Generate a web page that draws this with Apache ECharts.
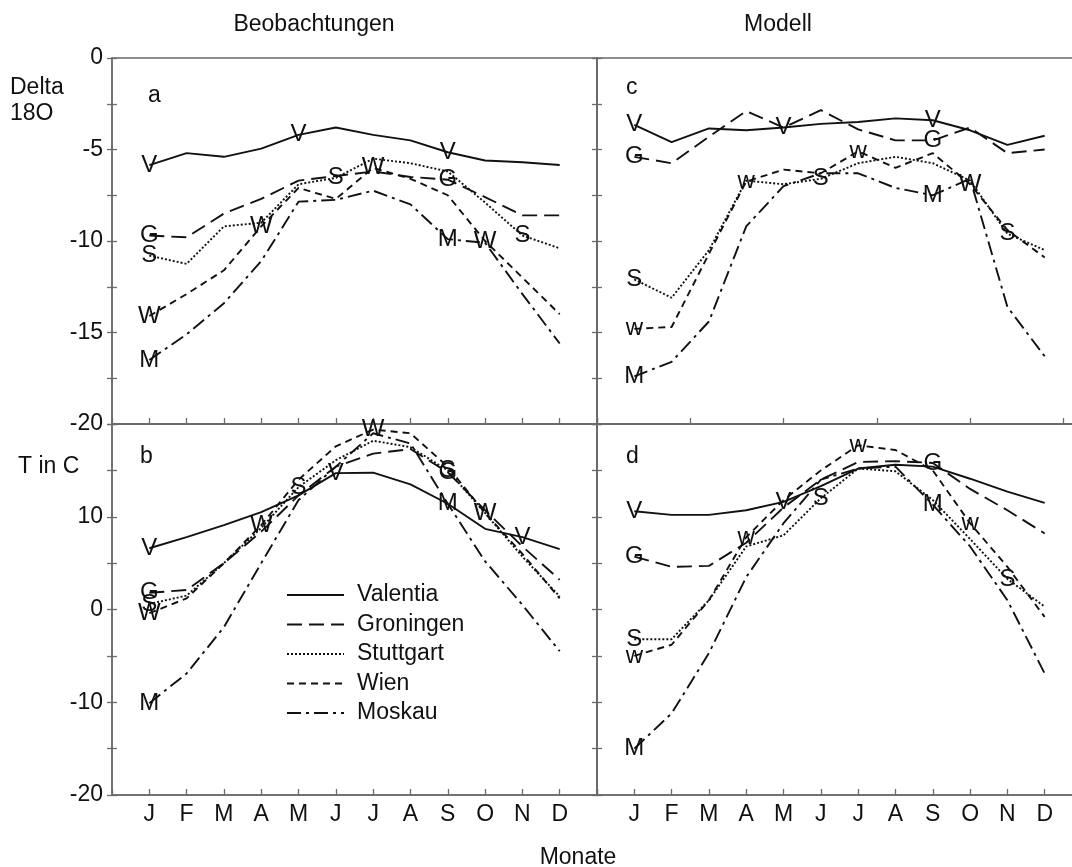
<!DOCTYPE html>
<html>
<head>
<meta charset="utf-8">
<script src="https://cdn.jsdelivr.net/npm/echarts@6/dist/echarts.min.js"></script>
<style>
  html, body { margin: 0; padding: 0; background: #ffffff; }
  #chart { width: 1072px; height: 867px; }
</style>
</head>
<body>
<div id="chart"></div>
<script>
// Month axis letters (January .. December)
const monthLetters = ['J', 'F', 'M', 'A', 'M', 'J', 'J', 'A', 'S', 'O', 'N', 'D'];
const stations = ['Valentia', 'Groningen', 'Stuttgart', 'Wien', 'Moskau'];

// a) Beobachtungen, Delta 18O
const valentiaObsD18O  = [-5.85, -5.2, -5.4, -4.95, -4.2, -3.8, -4.2, -4.5, -5.15, -5.6, -5.7, -5.85];
const groningenObsD18O = [-9.7, -9.8, -8.5, -7.7, -6.7, -6.45, -6.2, -6.5, -6.65, -7.6, -8.6, -8.6];
const stuttgartObsD18O = [-10.8, -11.25, -9.2, -9.0, -6.9, -6.55, -5.5, -5.75, -6.2, -7.9, -9.7, -10.4];
const wienObsD18O      = [-14.1, -12.9, -11.6, -9.2, -7.1, -7.7, -6.0, -6.6, -7.5, -10.0, -12.0, -14.0];
const moskauObsD18O    = [-16.5, -15.1, -13.4, -11.1, -7.85, -7.75, -7.25, -8.0, -9.9, -10.1, -12.9, -15.6];

// b) Beobachtungen, T in C
const valentiaObsT  = [6.6, 7.8, 9.1, 10.5, 12.3, 14.7, 14.75, 13.5, 11.4, 8.7, 7.8, 6.5];
const groningenObsT = [1.8, 2.1, 5.0, 8.4, 12.3, 15.4, 16.8, 17.3, 14.8, 10.7, 6.8, 3.2];
const stuttgartObsT = [0.6, 1.5, 5.0, 8.8, 13.2, 16.1, 18.2, 17.5, 15.0, 10.4, 5.7, 1.4];
const wienObsT      = [-0.4, 1.2, 5.0, 9.1, 14.0, 17.6, 19.4, 19.0, 15.4, 10.4, 6.0, 1.2];
const moskauObsT    = [-10.1, -6.9, -1.9, 5.0, 11.8, 15.4, 19.0, 17.9, 11.4, 5.2, 0.5, -4.5];

// c) Modell, Delta 18O
const valentiaModD18O  = [-3.65, -4.6, -3.85, -3.95, -3.8, -3.6, -3.5, -3.3, -3.4, -3.95, -4.75, -4.25];
const groningenModD18O = [-5.4, -5.75, -4.3, -2.9, -3.8, -2.85, -3.9, -4.5, -4.5, -3.8, -5.2, -5.0];
const stuttgartModD18O = [-12.1, -13.1, -10.5, -6.7, -6.9, -6.6, -5.75, -5.4, -5.75, -6.7, -9.6, -10.5];
const wienModD18O      = [-14.8, -14.7, -10.7, -6.75, -6.1, -6.3, -5.1, -6.0, -5.2, -6.9, -9.4, -10.9];
const moskauModD18O    = [-17.4, -16.6, -14.4, -9.2, -7.0, -6.3, -6.3, -7.1, -7.5, -6.6, -13.6, -16.3];

// d) Modell, T in C
const valentiaModT  = [10.6, 10.2, 10.2, 10.7, 11.6, 13.3, 15.2, 15.6, 15.4, 14.1, 12.7, 11.5];
const groningenModT = [5.7, 4.6, 4.7, 7.2, 11.0, 14.0, 15.9, 16.0, 15.8, 13.0, 10.7, 8.2];
const stuttgartModT = [-3.2, -3.2, 1.0, 6.8, 8.0, 12.0, 15.2, 14.9, 11.8, 7.6, 3.3, 0.3];
const wienModT      = [-5.0, -3.8, 1.0, 7.8, 11.8, 15.0, 17.7, 17.2, 15.0, 9.3, 4.6, -0.8];
const moskauModT    = [-15.0, -11.2, -4.7, 3.5, 9.3, 14.0, 15.2, 15.4, 11.3, 6.8, 1.0, -6.9];

// Station letters written on the curves: [station index, month, letter]
const markersObsD18O = [[0,1,'V'],[0,5,'V'],[0,9,'V'],[1,1,'G'],[1,9,'G'],[2,1,'S'],[2,6,'S'],[2,11,'S'],
                        [3,1,'W'],[3,4,'W'],[3,7,'W'],[3,10,'W'],[4,1,'M'],[4,9,'M']];
const markersObsT    = [[0,1,'V'],[0,6,'V'],[0,11,'V'],[1,1,'G'],[1,9,'G'],[2,1,'S'],[2,5,'S'],[2,9,'S'],
                        [3,1,'W'],[3,4,'W'],[3,7,'W'],[3,10,'W'],[4,1,'M'],[4,9,'M']];
const markersModD18O = [[0,1,'V'],[0,5,'V'],[0,9,'V'],[1,1,'G'],[1,9,'G'],[2,1,'S'],[2,6,'S'],[2,11,'S'],
                        [3,1,'w'],[3,4,'w'],[3,7,'w'],[3,10,'W'],[4,1,'M'],[4,9,'M']];
const markersModT    = [[0,1,'V'],[0,5,'V'],[1,1,'G'],[1,9,'G'],[2,1,'S'],[2,6,'S'],[2,11,'S'],
                        [3,1,'w'],[3,4,'w'],[3,7,'w'],[3,10,'w'],[4,1,'M'],[4,9,'M']];

const panels = [
  { values: [valentiaObsD18O, groningenObsD18O, stuttgartObsD18O, wienObsD18O, moskauObsD18O], markers: markersObsD18O },
  { values: [valentiaObsT, groningenObsT, stuttgartObsT, wienObsT, moskauObsT], markers: markersObsT },
  { values: [valentiaModD18O, groningenModD18O, stuttgartModD18O, wienModD18O, moskauModD18O], markers: markersModD18O },
  { values: [valentiaModT, groningenModT, stuttgartModT, wienModT, moskauModT], markers: markersModT }
];

const FONT = '"Liberation Sans", Arial, Helvetica, sans-serif';
const FS = 23;
const INK = '#111111';
const FRAME = '#6a6a6a';
const dashes = [null, [15, 7], [2, 2], [7, 5], [14, 5, 3, 5]];

// Layout of the four panels: a (top left), b (bottom left), c (top right), d (bottom right)
const gridBoxes = [
  { left: 112, top: 58, width: 485, height: 366 },
  { left: 112, top: 424, width: 485, height: 371 },
  { left: 597, top: 58, width: 485, height: 366 },
  { left: 597, top: 424, width: 485, height: 371 }
];
const isTemp = [false, true, false, true];

const grid = gridBoxes.map(g => Object.assign({
  show: true, borderColor: FRAME, borderWidth: 1.5, backgroundColor: 'transparent',
  containLabel: false, outerBoundsMode: 'none'
}, g));

const xAxis = gridBoxes.map((g, i) => ({
  type: 'value', gridIndex: i, position: 'bottom', min: 0, max: 13, interval: i === 2 ? 2.5 : 1,
  axisLine: { show: true, onZero: false, lineStyle: { color: FRAME, width: 1.5 } },
  axisTick: { show: true, inside: true, length: 6, lineStyle: { color: FRAME, width: 1.3 } },
  splitLine: { show: false },
  axisLabel: {
    show: isTemp[i], margin: 8, color: INK, fontSize: FS, fontFamily: FONT,
    formatter: v => (v >= 1 && v <= 12 && Number.isInteger(v)) ? monthLetters[v - 1] : ''
  }
}));

const yAxis = [];
gridBoxes.forEach((g, i) => {
  const temp = isTemp[i];
  // outer ticks, with the value labels on the left column
  yAxis.push({
    type: 'value', gridIndex: i, position: 'left',
    min: -20, max: temp ? 20 : 0, interval: temp ? 5 : 2.5,
    splitLine: { show: false },
    axisLine: { show: true, onZero: false, lineStyle: { color: FRAME, width: 1.5 } },
    axisTick: { show: true, inside: false, length: 5, lineStyle: { color: FRAME, width: 1.3 } },
    axisLabel: {
      show: i < 2, margin: 9, color: INK, fontSize: FS, fontFamily: FONT,
      formatter: temp ? (v => (v % 10 === 0 && v !== 20) ? String(v) : '')
                      : (v => (v % 5 === 0) ? String(v) : '')
    }
  });
});
// inner half of the crossing ticks
gridBoxes.forEach((g, i) => {
  const temp = isTemp[i];
  yAxis.push({
    type: 'value', gridIndex: i, position: 'left', min: -20, max: temp ? 20 : 0, interval: temp ? 5 : 2.5,
    splitLine: { show: false }, axisLine: { show: false, onZero: false }, axisLabel: { show: false },
    axisTick: { show: true, inside: true, length: 5, lineStyle: { color: FRAME, width: 1.3 } }
  });
});

const series = [];
panels.forEach((p, pi) => {
  p.values.forEach((vals, si) => {
    series.push({
      type: 'line', name: stations[si], xAxisIndex: pi, yAxisIndex: pi,
      data: vals.map((v, k) => [k + 1, v]),
      symbol: 'none', silent: true, z: 3,
      lineStyle: { color: INK, width: 1.9, type: dashes[si] || 'solid' }
    });
  });
  series.push({
    type: 'scatter', xAxisIndex: pi, yAxisIndex: pi, silent: true, z: 4,
    symbolSize: 0, itemStyle: { color: INK, opacity: 1 },
    data: p.markers.map(m => ({ value: [m[1], p.values[m[0]][m[1] - 1]], name: m[2] })),
    label: {
      show: true, position: 'inside', formatter: d => d.name, opacity: 1,
      color: INK, fontSize: 24, fontFamily: FONT, textBorderWidth: 0
    }
  });
});

const text = (t, x, y, align) => ({
  type: 'text', silent: true,
  style: { text: t, x: x, y: y, align: align || 'left', verticalAlign: 'middle', font: FS + 'px ' + FONT, fill: INK }
});

// Legend key inside panel b
const legendGraphics = [];
stations.forEach((name, i) => {
  const y = 595 + i * 29.5;
  legendGraphics.push({
    type: 'line', silent: true,
    shape: { x1: 287, y1: y, x2: 344, y2: y },
    style: { stroke: INK, lineWidth: 2, lineDash: dashes[i] }
  });
  legendGraphics.push(text(name, 357, y));
});

const option = {
  backgroundColor: '#ffffff',
  animation: false,
  grid: grid,
  xAxis: xAxis,
  yAxis: yAxis,
  graphic: [
    text('Beobachtungen', 314, 25, 'center'),
    text('Modell', 778, 25, 'center'),
    text('Monate', 578, 858, 'center'),
    text('Delta', 10, 88),
    text('18O', 10, 114),
    text('T in C', 18, 467),
    text('a', 148, 96),
    text('b', 140, 457),
    text('c', 626, 88),
    text('d', 626, 457)
  ].concat(legendGraphics),
  series: series
};

const chart = echarts.init(document.getElementById('chart'), null, { renderer: 'canvas' });
chart.setOption(option);
</script>
</body>
</html>
